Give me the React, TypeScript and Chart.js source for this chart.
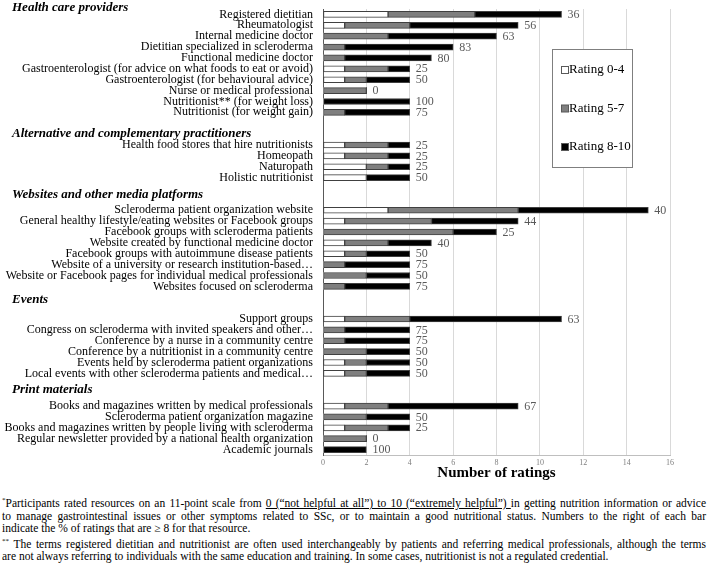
import React, { useEffect, useRef } from "react";
import { Chart, registerables } from "chart.js";

Chart.register(...registerables);

const categories: string[] = [
  "Registered dietitian",
  "Rheumatologist",
  "Internal medicine doctor",
  "Dietitian specialized in scleroderma",
  "Functional medicine doctor",
  "Gastroenterologist (for advice on what foods to eat or avoid)",
  "Gastroenterologist (for behavioural advice)",
  "Nurse or medical professional",
  "Nutritionist** (for weight loss)",
  "Nutritionist (for weight gain)",
  "",
  "",
  "Health food stores that hire nutritionists",
  "Homeopath",
  "Naturopath",
  "Holistic nutritionist",
  "",
  "",
  "Scleroderma patient organization website",
  "General healthy lifestyle/eating websites or Facebook groups",
  "Facebook groups with scleroderma patients",
  "Website created by functional medicine doctor",
  "Facebook groups with autoimmune disease patients",
  "Website of a university or research institution-based…",
  "Website or Facebook pages for individual medical professionals",
  "Websites focused on scleroderma",
  "",
  "",
  "Support groups",
  "Congress on scleroderma with invited speakers and other…",
  "Conference by a nurse in a community centre",
  "Conference by a nutritionist in a community centre",
  "Events held by scleroderma patient organizations",
  "Local events with other scleroderma patients and medical…",
  "",
  "",
  "Books and magazines written by medical professionals",
  "Scleroderma patient organization magazine",
  "Books and magazines written by people living with scleroderma",
  "Regular newsletter provided by a national health organization",
  "Academic journals",
];

const groupHeaders: string[] = [
  "Health care providers",
  "Alternative and complementary practitioners",
  "Websites and other media platforms",
  "Events",
  "Print materials",
];

const seriesLabels: string[] = ["Rating 0-4", "Rating 5-7", "Rating 8-10"];

const n = null;
const rating0to4: (number | null)[] = [
  3, 1, 0, 0, 0, 1, 1, 0, 0, 0, n, n,
  1, 1, 2, 2, n, n,
  3, 1, 0, 1, 1, 0, 0, 0, n, n,
  1, 0, 0, 0, 1, 1, n, n,
  1, 0, 1, 0, 0,
];
const rating5to7: (number | null)[] = [
  4, 3, 3, 1, 1, 2, 1, 2, 0, 1, n, n,
  2, 2, 1, 0, n, n,
  6, 4, 6, 2, 1, 1, 2, 1, n, n,
  3, 1, 1, 2, 1, 1, n, n,
  2, 2, 2, 2, 0,
];
const rating8to10: (number | null)[] = [
  4, 5, 5, 5, 4, 1, 2, 0, 4, 3, n, n,
  1, 1, 1, 2, n, n,
  6, 4, 2, 2, 2, 3, 2, 3, n, n,
  7, 3, 3, 2, 2, 2, n, n,
  6, 2, 1, 0, 2,
];
const percentHigh: (number | null)[] = [
  36, 56, 63, 83, 80, 25, 50, 0, 100, 75, n, n,
  25, 25, 25, 50, n, n,
  40, 44, 25, 40, 50, 75, 50, 75, n, n,
  63, 75, 75, 50, 50, 50, n, n,
  67, 50, 25, 0, 100,
];

const xTicks: number[] = [0, 2, 4, 6, 8, 10, 12, 14, 16];

const SERIF = '"Liberation Serif", "Times New Roman", serif';

const headerPlugin = {
  id: "groupHeaders",
  afterDraw(chart: any) {
    const ctx = chart.ctx;
    const y = chart.scales.y;
    const starts: number[] = [];
    categories.forEach((c, i) => {
      if (c !== "" && (i === 0 || categories[i - 1] === "")) starts.push(i);
    });
    const offsets = [0.65, 1.07, 1.4, 1.8, 1.5];
    ctx.save();
    ctx.font = `italic bold 13px ${SERIF}`;
    ctx.fillStyle = "#000";
    ctx.textAlign = "left";
    ctx.textBaseline = "middle";
    groupHeaders.forEach((h, gi) => {
      const py = y.getPixelForValue(starts[gi] - offsets[gi]);
      ctx.fillText(h, 12, py);
    });
    ctx.restore();
  },
};

const valueLabelPlugin = {
  id: "valueLabels",
  afterDatasetsDraw(chart: any) {
    const ctx = chart.ctx;
    const xs = chart.scales.x;
    const ys = chart.scales.y;
    ctx.save();
    ctx.font = `12px ${SERIF}`;
    ctx.fillStyle = "#595959";
    ctx.textAlign = "left";
    ctx.textBaseline = "middle";
    percentHigh.forEach((p, i) => {
      if (p === null) return;
      const total = (rating0to4[i] || 0) + (rating5to7[i] || 0) + (rating8to10[i] || 0);
      ctx.fillText(String(p), xs.getPixelForValue(total) + 6, ys.getPixelForValue(i) + 0.5);
    });
    ctx.restore();
  },
};

const legendPlugin = {
  id: "boxLegend",
  afterDraw(chart: any) {
    const ctx = chart.ctx;
    const left = 552, top = 49, w = 80, h = 118;
    ctx.save();
    ctx.fillStyle = "#fff";
    ctx.fillRect(left, top, w, h);
    ctx.strokeStyle = "#7f7f7f";
    ctx.lineWidth = 1;
    ctx.strokeRect(left + 0.5, top + 0.5, w, h);
    ctx.font = `13px ${SERIF}`;
    ctx.textBaseline = "middle";
    ctx.textAlign = "left";
    chart.data.datasets.forEach((ds: any, i: number) => {
      const cy = top + 21 + i * 38.5;
      ctx.fillStyle = ds.backgroundColor;
      ctx.fillRect(left + 9.5, cy - 3.5, 7, 7);
      ctx.strokeStyle = "#595959";
      ctx.strokeRect(left + 9.5, cy - 3.5, 7, 7);
      ctx.fillStyle = "#000";
      ctx.fillText(ds.label, left + 17, cy);
    });
    ctx.restore();
  },
};

function App() {
  const canvasRef = useRef<HTMLCanvasElement | null>(null);

  useEffect(() => {
    document.body.style.margin = "0";
    const canvas = canvasRef.current;
    if (!canvas) return;
    Chart.defaults.font.family = SERIF;
    const colors = ["#ffffff", "#7f7f7f", "#000000"];
    const series = [rating0to4, rating5to7, rating8to10];
    const chart = new Chart(canvas, {
      type: "bar",
      data: {
        labels: categories,
        datasets: series.map((d, i) => ({
          label: seriesLabels[i],
          data: d,
          backgroundColor: colors[i],
          borderColor: "#404040",
          borderWidth: (c: any) => (c.raw ? 1 : 0),
          borderSkipped: false,
          barThickness: 6,
        })),
      },
      options: {
        indexAxis: "y",
        responsive: false,
        animation: false,
        layout: { padding: { top: 9, right: 39, bottom: 0, left: 0 } },
        plugins: {
          legend: { display: false },
          tooltip: { enabled: false },
        },
        scales: {
          x: {
            stacked: true,
            min: 0,
            max: 16,
            afterBuildTicks: (s: any) => {
              s.ticks = xTicks.map((v) => ({ value: v }));
            },
            afterFit: (s: any) => {
              s.height = 27;
            },
            ticks: { font: { size: 8 }, color: "#7f7f7f", padding: 3 },
            grid: { color: "#d9d9d9", drawTicks: false },
            border: { display: true, color: "#bfbfbf" },
            title: {
              display: true,
              text: "Number of ratings",
              font: { size: 15, weight: "bold" },
              color: "#000",
              padding: { top: 0, bottom: 0 },
            },
          },
          y: {
            stacked: true,
            afterFit: (s: any) => {
              s.width = 323;
              s.paddingTop = 0;
              s.paddingBottom = 0;
            },
            ticks: {
              autoSkip: false,
              font: { size: 12 },
              color: "#000",
              padding: 10,
            },
            grid: { display: false, drawTicks: false },
            border: { display: true, color: "#595959" },
          },
        },
      },
      plugins: [valueLabelPlugin, legendPlugin, headerPlugin],
    } as any);
    return () => chart.destroy();
  }, []);

  const line = (justify: boolean): React.CSSProperties => ({
    textAlign: justify ? "justify" : "left",
    textAlignLast: justify ? "justify" : "left",
    whiteSpace: justify ? "normal" : "nowrap",
    height: "12.5px",
    overflow: "visible",
  } as any);

  const supStyle: React.CSSProperties = { fontSize: "7px", lineHeight: 0, verticalAlign: "top", position: "relative", top: "3px" };

  return (
    <div style={{ width: 709, fontFamily: SERIF, color: "#000" }}>
      <canvas ref={canvasRef} width={709} height={482} style={{ display: "block" }} />
      <div style={{ fontSize: "11.5px", lineHeight: "12.5px", margin: "15px 3px 0 2px" }}>
        <div style={line(true)}>
          <span style={supStyle}>*</span>Participants rated resources on an 11-point scale from{" "}
          <u>0 (“not helpful at all”) to 10 (“extremely helpful”) </u>in getting nutrition information or advice
        </div>
        <div style={line(true)}>
          to manage gastrointestinal issues or other symptoms related to SSc, or to maintain a good nutritional status. Numbers to the right of each bar
        </div>
        <div style={line(false)}>indicate the % of ratings that are ≥ 8 for that resource.</div>
        <div style={{ ...line(true), marginTop: "3px" }}>
          <span style={supStyle}>**</span> The terms registered dietitian and nutritionist are often used interchangeably by patients and referring medical professionals, although the terms
        </div>
        <div style={line(false)}>
          are not always referring to individuals with the same education and training. In some cases, nutritionist is not a regulated credential.
        </div>
      </div>
    </div>
  );
}

export default App;
